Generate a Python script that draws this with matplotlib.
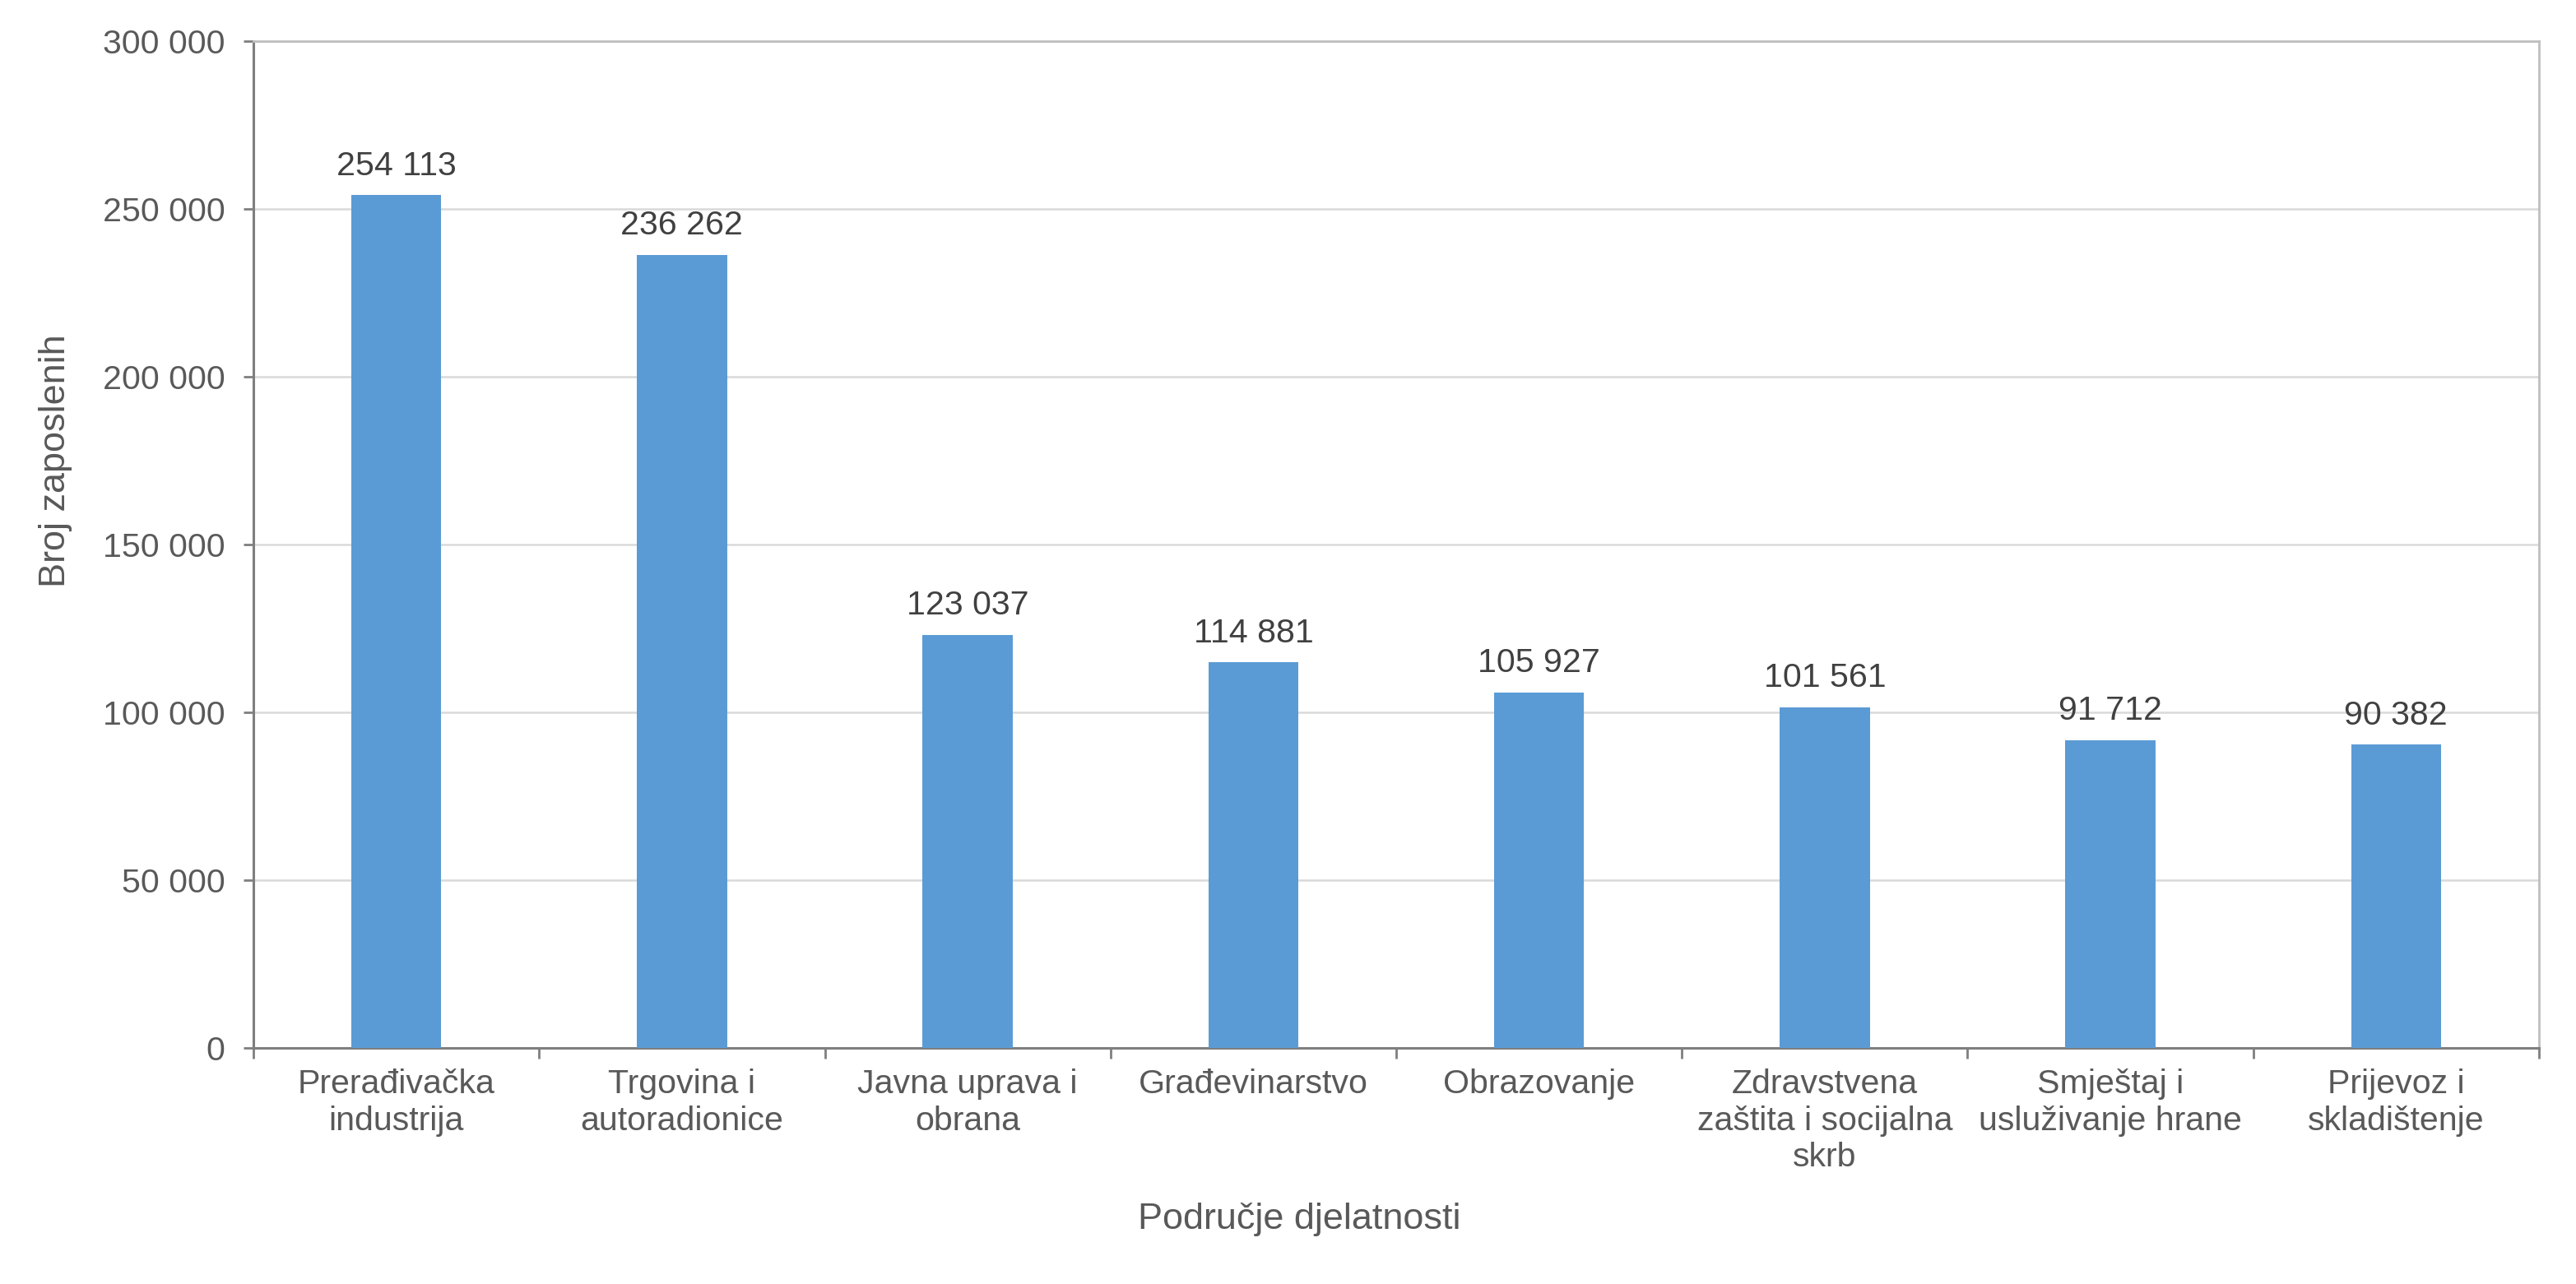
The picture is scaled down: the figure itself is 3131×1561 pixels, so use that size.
import numpy as np
import matplotlib.pyplot as plt
from matplotlib.ticker import FuncFormatter, FixedLocator, NullFormatter

plt.rcParams['font.family'] = ['Liberation Sans', 'DejaVu Sans']

categories = ["Prerađivačka\nindustrija", "Trgovina i\nautoradionice", "Javna uprava i\nobrana",
              "Građevinarstvo", "Obrazovanje", "Zdravstvena\nzaštita i socijalna\nskrb",
              "Smještaj i\nusluživanje hrane", "Prijevoz i\nskladištenje"]
employees = [254113, 236262, 123037, 114881, 105927, 101561, 91712, 90382]
y_ticks = [0, 50000, 100000, 150000, 200000, 250000, 300000]

def fmt(v, pos=None):
    return f"{v:,.0f}".replace(",", " ")

fig = plt.figure(figsize=(15.655, 7.805), dpi=200)
ax = fig.add_axes([0.0984, 0.1838, 0.8872, 0.7842])

x = np.arange(len(categories))
bars = ax.bar(x, employees, width=0.315, color="#5B9BD5", zorder=3)

for xi, v in zip(x, employees):
    ax.annotate(fmt(v), (xi, v), xytext=(0, 6), textcoords="offset points",
                ha="center", va="bottom", fontsize=14.8, color="#404040")

ax.set_xlim(-0.5, len(categories) - 0.5)
ax.set_ylim(0, 300000)
ax.set_yticks(y_ticks)
ax.yaxis.set_major_formatter(FuncFormatter(fmt))
ax.grid(axis="y", color="#D9D9D9", linewidth=0.9, zorder=0)

# category ticks sit between the bars, labels in the middle
ax.xaxis.set_major_locator(FixedLocator(np.arange(-0.5, len(categories), 1.0)))
ax.xaxis.set_major_formatter(NullFormatter())
ax.xaxis.set_minor_locator(FixedLocator(x))
ax.set_xticklabels(categories, minor=True, linespacing=1.22)
ax.tick_params(axis="x", which="major", length=4.5, width=1.0, color="#7F7F7F", direction="out")
ax.tick_params(axis="x", which="minor", length=0, pad=9, labelsize=14.8, labelcolor="#595959")
ax.tick_params(axis="y", length=4.5, width=1.0, color="#7F7F7F", pad=8, labelsize=14.8, labelcolor="#595959")

for side in ["left", "bottom"]:
    ax.spines[side].set_color("#7F7F7F")
    ax.spines[side].set_linewidth(1.1)
for side in ["top", "right"]:
    ax.spines[side].set_color("#BFBFBF")
    ax.spines[side].set_linewidth(1.0)

fig.text(0.5045, 0.0505, "Područje djelatnosti", ha="center", va="center", fontsize=16.2, color="#595959")
fig.text(0.0217, 0.641, "Broj zaposlenih", ha="center", va="center", rotation=90, fontsize=16.2, color="#595959")

fig.savefig("out.png", dpi=200, facecolor="white")
